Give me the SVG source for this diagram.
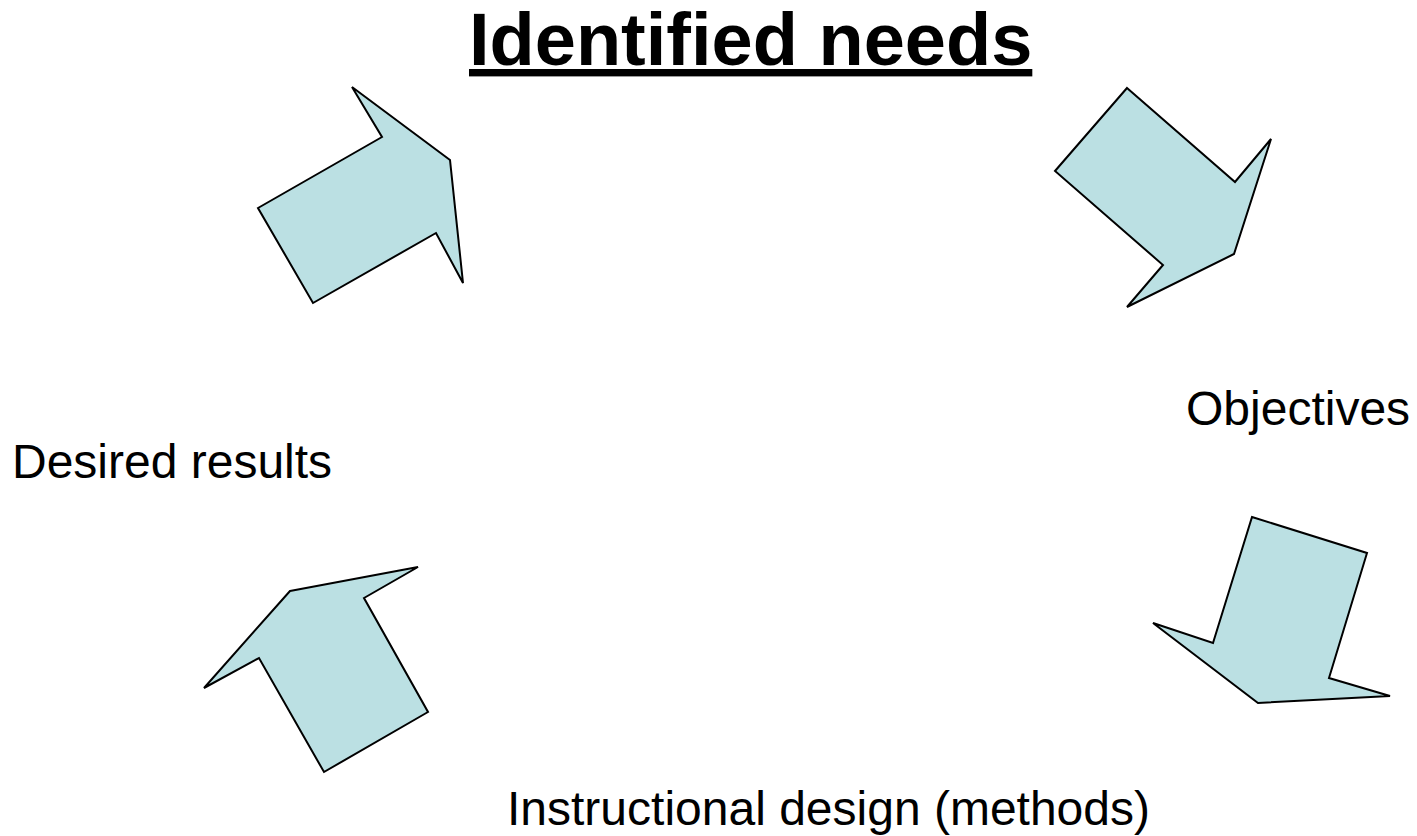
<svg xmlns="http://www.w3.org/2000/svg" width="1417" height="836" viewBox="0 0 1417 836">
  <style>
    .arrow { fill: #BBE0E3; stroke: #000000; stroke-width: 2; stroke-linejoin: miter; }
    .label { font-family: "Liberation Sans", Arial, sans-serif; font-size: 48px; fill: #000000; }
    .title { font-family: "Liberation Sans", Arial, sans-serif; font-size: 74px; font-weight: bold; fill: #000000; text-decoration: underline; }
  </style>
  <rect x="0" y="0" width="1417" height="836" fill="#FFFFFF"/>
  <g id="title">
    <text class="title" x="469" y="65">Identified needs</text>
  </g>
  <g id="connectors">
    <polygon id="arrow-top-left" class="arrow" points="352,87 382,137 258,208 313,303 436,233 463,283 450,160"/>
    <polygon id="arrow-top-right" class="arrow" points="1127,88 1235,182 1271,139 1234,254 1127,307 1163,265 1055,171"/>
    <polygon id="arrow-bottom-right" class="arrow" points="1252,517 1367,553 1329,678 1390,696 1258,703 1153,623 1213,643"/>
    <polygon id="arrow-bottom-left" class="arrow" points="290,591 418,567 364,598 428,712 324,772 259,658 204,688"/>
  </g>
  <g id="node-objectives">
    <text class="label" x="1186" y="425">Objectives</text>
  </g>
  <g id="node-desired-results">
    <text class="label" x="12" y="478">Desired results</text>
  </g>
  <g id="node-instructional-design">
    <text class="label" x="507" y="825">Instructional design (methods)</text>
  </g>
</svg>
